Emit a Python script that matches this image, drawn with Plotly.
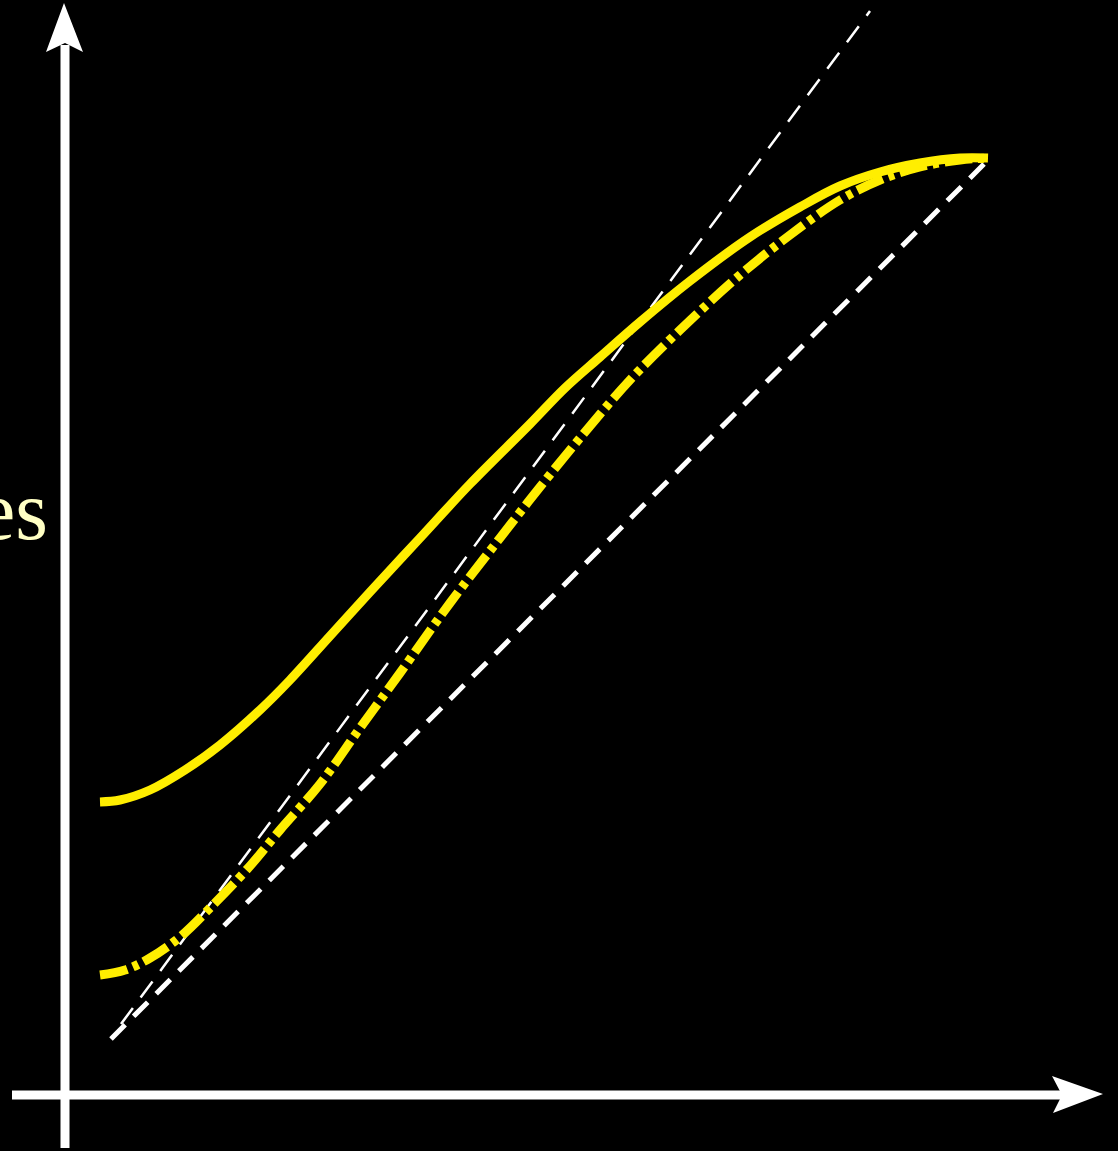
import plotly.graph_objects as go

# Data (pixel-like units, y grows downward)
solid_x = [100, 120, 150, 185, 220, 260, 290, 330, 370, 420, 470, 530, 565, 600, 640, 690, 750, 800, 840, 880, 920, 960, 988]
solid_y = [802, 800, 790, 770, 745, 710, 680, 636, 592, 538, 484, 424, 388, 357, 322, 281, 237, 207, 186, 172, 163, 158, 158]

dashdot_x = [100, 125, 150, 180, 210, 250, 280, 320, 360, 400, 450, 500, 540, 580, 630, 680, 740, 790, 840, 880, 920, 960, 988]
dashdot_y = [975, 970, 958, 937, 908, 866, 830, 784, 728, 673, 603, 538, 487, 438, 380, 330, 275, 235, 200, 180, 167, 160, 158]

thick_ref_x = [111, 988]
thick_ref_y = [1039, 160]

thin_ref_x = [121, 870]
thin_ref_y = [1024, 11]

label_text = "es"

W, H = 1118, 1151

fig = go.Figure()

fig.add_trace(go.Scatter(x=thick_ref_x, y=thick_ref_y, mode="lines",
                         line=dict(color="white", width=5, dash="20px,12px"), hoverinfo="skip"))
fig.add_trace(go.Scatter(x=thin_ref_x, y=thin_ref_y, mode="lines",
                         line=dict(color="white", width=2.5, dash="20px,13px"), hoverinfo="skip"))
fig.add_trace(go.Scatter(x=solid_x, y=solid_y, mode="lines", line_shape="spline",
                         line=dict(color="#FFEE00", width=9), hoverinfo="skip"))
fig.add_trace(go.Scatter(x=dashdot_x, y=dashdot_y, mode="lines", line_shape="spline",
                         line=dict(color="#FFEE00", width=9, dash="28px,6px,6px,6px"), hoverinfo="skip"))

# axes with arrows
shapes = [
    dict(type="line", x0=65, x1=65, y0=1148, y1=45, line=dict(color="white", width=9)),
    dict(type="line", x0=12, x1=1062, y0=1095, y1=1095, line=dict(color="white", width=9)),
    dict(type="path", path="M 64 3 L 83 52 L 65 43 L 46 52 Z", fillcolor="white", line=dict(width=0)),
    dict(type="path", path="M 1103 1094 L 1053 1113 L 1062 1095 L 1052 1076 Z", fillcolor="white", line=dict(width=0)),
]

fig.update_layout(
    width=W, height=H,
    margin=dict(l=0, r=0, t=0, b=0),
    paper_bgcolor="black", plot_bgcolor="black",
    showlegend=False,
    xaxis=dict(range=[0, W], visible=False, fixedrange=True),
    yaxis=dict(range=[H, 0], visible=False, fixedrange=True),
    shapes=shapes,
    annotations=[dict(x=50, y=541, xref="x", yref="y", text=label_text, showarrow=False,
                      xanchor="right", yanchor="bottom", yshift=-18,
                      font=dict(family="Liberation Serif, Times New Roman, serif", size=84, color="#FFFFC4"))],
)

fig.write_html("out.html", config={"displayModeBar": False},
               post_script="document.body.style.margin='0';document.body.style.background='black';")
